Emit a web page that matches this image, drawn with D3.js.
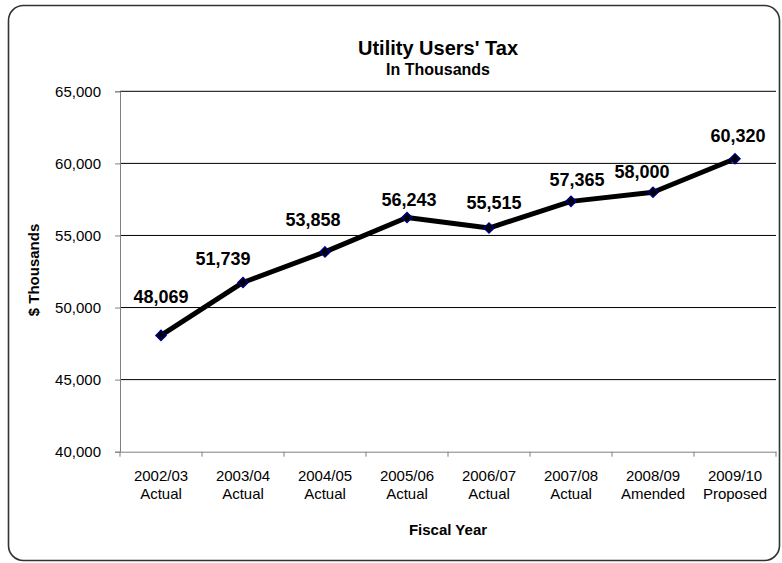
<!DOCTYPE html>
<html>
<head>
<meta charset="utf-8">
<script src="https://cdn.jsdelivr.net/npm/d3@7"></script>
<style>
  html, body { margin: 0; padding: 0; background: #fff; }
  svg { display: block; font-family: "Liberation Sans", Arial, sans-serif; }
</style>
</head>
<body>
<svg id="chart" width="782" height="563"></svg>
<script>
// Fiscal years and their budget status
const years = ["2002/03", "2003/04", "2004/05", "2005/06", "2006/07", "2007/08", "2008/09", "2009/10"];
const statuses = ["Actual", "Actual", "Actual", "Actual", "Actual", "Actual", "Amended", "Proposed"];
// Utility users' tax revenue, $ thousands
const revenue = [48069, 51739, 53858, 56243, 55515, 57365, 58000, 60320];
// Value axis ticks
const yTicks = [40000, 45000, 50000, 55000, 60000, 65000];

// Label nudges so value labels clear the line
const labelNudge = [[0, -32], [-20, -17], [-12, -26], [2, -12], [5, -19], [6, -15], [-11, -14], [3, -17]];

const svg = d3.select("#chart");
const plot = { left: 120, right: 776, top: 91.3, bottom: 451.7 };

// Outer rounded frame
svg.append("rect")
  .attr("x", 8.5).attr("y", 5.5)
  .attr("width", 771).attr("height", 555)
  .attr("rx", 15).attr("ry", 15)
  .attr("fill", "#fff")
  .attr("stroke", "#333").attr("stroke-width", 1.6);

const x = d3.scaleBand().domain(years).range([plot.left, plot.right]).padding(0);
const y = d3.scaleLinear().domain([40000, 65000]).range([plot.bottom, plot.top]);
const fmt = d3.format(",");

// Horizontal gridlines
svg.append("g")
  .selectAll("line")
  .data(yTicks.filter(t => t > 40000))
  .join("line")
  .attr("x1", plot.left).attr("x2", plot.right)
  .attr("y1", d => y(d)).attr("y2", d => y(d))
  .attr("stroke", "#000").attr("stroke-width", 1);

// Value axis
const yAxis = svg.append("g")
  .attr("transform", `translate(${plot.left},0)`)
  .call(d3.axisLeft(y).tickValues(yTicks).tickFormat(fmt).tickSize(5).tickPadding(14));
yAxis.select(".domain").attr("stroke", "#808080");
yAxis.selectAll(".tick line").attr("stroke", "#808080");
yAxis.selectAll(".tick text")
  .attr("font-family", "Liberation Sans, Arial, sans-serif")
  .attr("font-size", 15).attr("fill", "#000");

// Category axis
const xAxis = svg.append("g")
  .attr("transform", `translate(0,${plot.bottom})`)
  .call(d3.axisBottom(x).tickSize(0).tickFormat(""));
xAxis.select(".domain").attr("stroke", "#808080");
xAxis.selectAll(".tick").remove();

// Tick marks on category boundaries
const bounds = years.map(d => x(d)).concat([plot.right]);
svg.append("g")
  .selectAll("line")
  .data(bounds)
  .join("line")
  .attr("x1", d => d).attr("x2", d => d)
  .attr("y1", plot.bottom).attr("y2", plot.bottom + 5)
  .attr("stroke", "#808080");

// Two-line category labels
const cat = svg.append("g")
  .attr("font-size", 15).attr("text-anchor", "middle").attr("fill", "#000");
cat.selectAll("text.yr")
  .data(years)
  .join("text").attr("class", "yr")
  .attr("x", d => x(d) + x.bandwidth() / 2)
  .attr("y", 481)
  .text(d => d);
cat.selectAll("text.st")
  .data(statuses)
  .join("text").attr("class", "st")
  .attr("x", (d, i) => x(years[i]) + x.bandwidth() / 2)
  .attr("y", 499)
  .text(d => d);

// Line series
const px = (d, i) => x(years[i]) + x.bandwidth() / 2;
svg.append("path")
  .datum(revenue)
  .attr("fill", "none")
  .attr("stroke", "#000")
  .attr("stroke-width", 5)
  .attr("stroke-linejoin", "round")
  .attr("d", d3.line().x(px).y(d => y(d)));

// Diamond markers
svg.append("g")
  .selectAll("path")
  .data(revenue)
  .join("path")
  .attr("transform", (d, i) => `translate(${px(d, i)},${y(d)})`)
  .attr("d", d3.symbol().type(d3.symbolDiamond2).size(64))
  .attr("fill", "#000")
  .attr("stroke", "#000080")
  .attr("stroke-width", 1.5);

// Value labels
svg.append("g")
  .attr("font-size", 18).attr("font-weight", "bold").attr("text-anchor", "middle")
  .selectAll("text")
  .data(revenue)
  .join("text")
  .attr("x", (d, i) => px(d, i) + labelNudge[i][0])
  .attr("y", (d, i) => y(d) + labelNudge[i][1])
  .text(d => fmt(d));

// Titles
svg.append("text")
  .attr("x", 438).attr("y", 55)
  .attr("text-anchor", "middle").attr("font-weight", "bold").attr("font-size", 20)
  .text("Utility Users' Tax");
svg.append("text")
  .attr("x", 438).attr("y", 75)
  .attr("text-anchor", "middle").attr("font-weight", "bold").attr("font-size", 16)
  .text("In Thousands");

// Axis titles
svg.append("text")
  .attr("transform", "translate(39,270) rotate(-90)")
  .attr("text-anchor", "middle").attr("font-weight", "bold").attr("font-size", 15)
  .text("$ Thousands");
svg.append("text")
  .attr("x", 448).attr("y", 535)
  .attr("text-anchor", "middle").attr("font-weight", "bold").attr("font-size", 15)
  .text("Fiscal Year");
</script>
</body>
</html>
